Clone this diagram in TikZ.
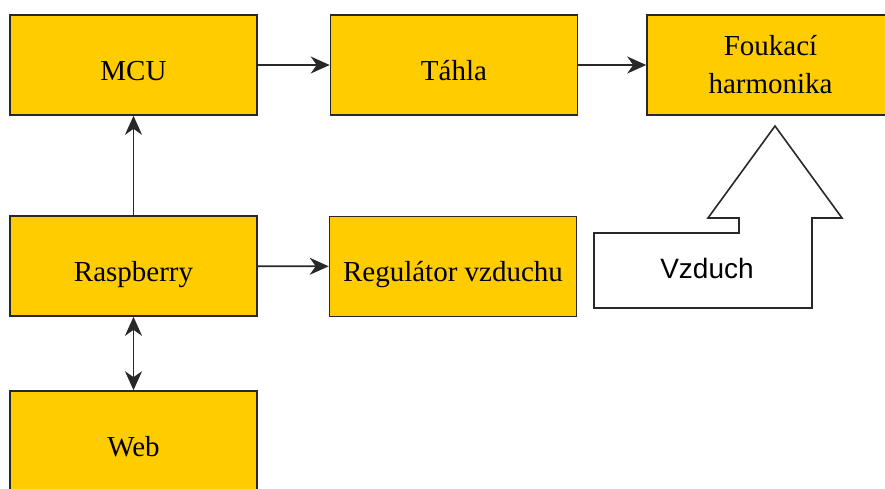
\documentclass[tikz,border=0pt]{standalone}
\usepackage{fontspec}
\setmainfont{Liberation Serif}
\newfontfamily\vzfont{Liberation Sans}
\usetikzlibrary{arrows.meta}
\definecolor{boxfill}{RGB}{255,204,0}
\definecolor{boxline}{RGB}{40,40,40}

\begin{document}
\begin{tikzpicture}[x=1pt,y=-1pt,
  blok/.style={draw=boxline,fill=boxfill,line width=1.6pt,minimum width=247pt,minimum height=100pt,inner sep=0pt,font=\fontsize{29}{38}\selectfont,align=center},
  jedna/.style={blok,text height=30pt,text depth=0pt},
  hrot/.tip={Stealth[length=19pt,width=17pt,inset=6pt]},
  sipka/.style={draw=boxline,line width=1.7pt,-hrot}]
	\useasboundingbox (0,0) rectangle (885,488);
	% bloky
	\node[jedna] (mcu) at (133.5,65) {MCU};
	\node[jedna] (tahla) at (454,65) {Táhla};
	\node[blok] (harm) at (770.5,65) {Foukací\\harmonika};
	\node[jedna] (rasp) at (133.5,266) {Raspberry};
	\node[jedna] (reg) at (453,266.5) {Regulátor vzduchu};
	\node[jedna] (web) at (133.5,441) {Web};
	% spoje
	\draw[sipka] (mcu) -- (tahla);
	\draw[sipka] (tahla) -- (harm);
	\draw[sipka] (rasp) -- (mcu);
	\draw[sipka] (rasp) -- (reg);
	\draw[sipka,hrot-hrot] (rasp) -- (web);
	% vzduch
	\draw[draw=boxline,fill=white,line width=1.6pt] (594,308) -- (594,233) -- (739,233) -- (739,218) -- (708,218)
		-- (775,126) -- (842,218) -- (812,218) -- (812,308) -- cycle;
	\node[font=\vzfont\fontsize{28}{34}\selectfont] (vzduch) at (707,268) {Vzduch};
\end{tikzpicture}
\end{document}
